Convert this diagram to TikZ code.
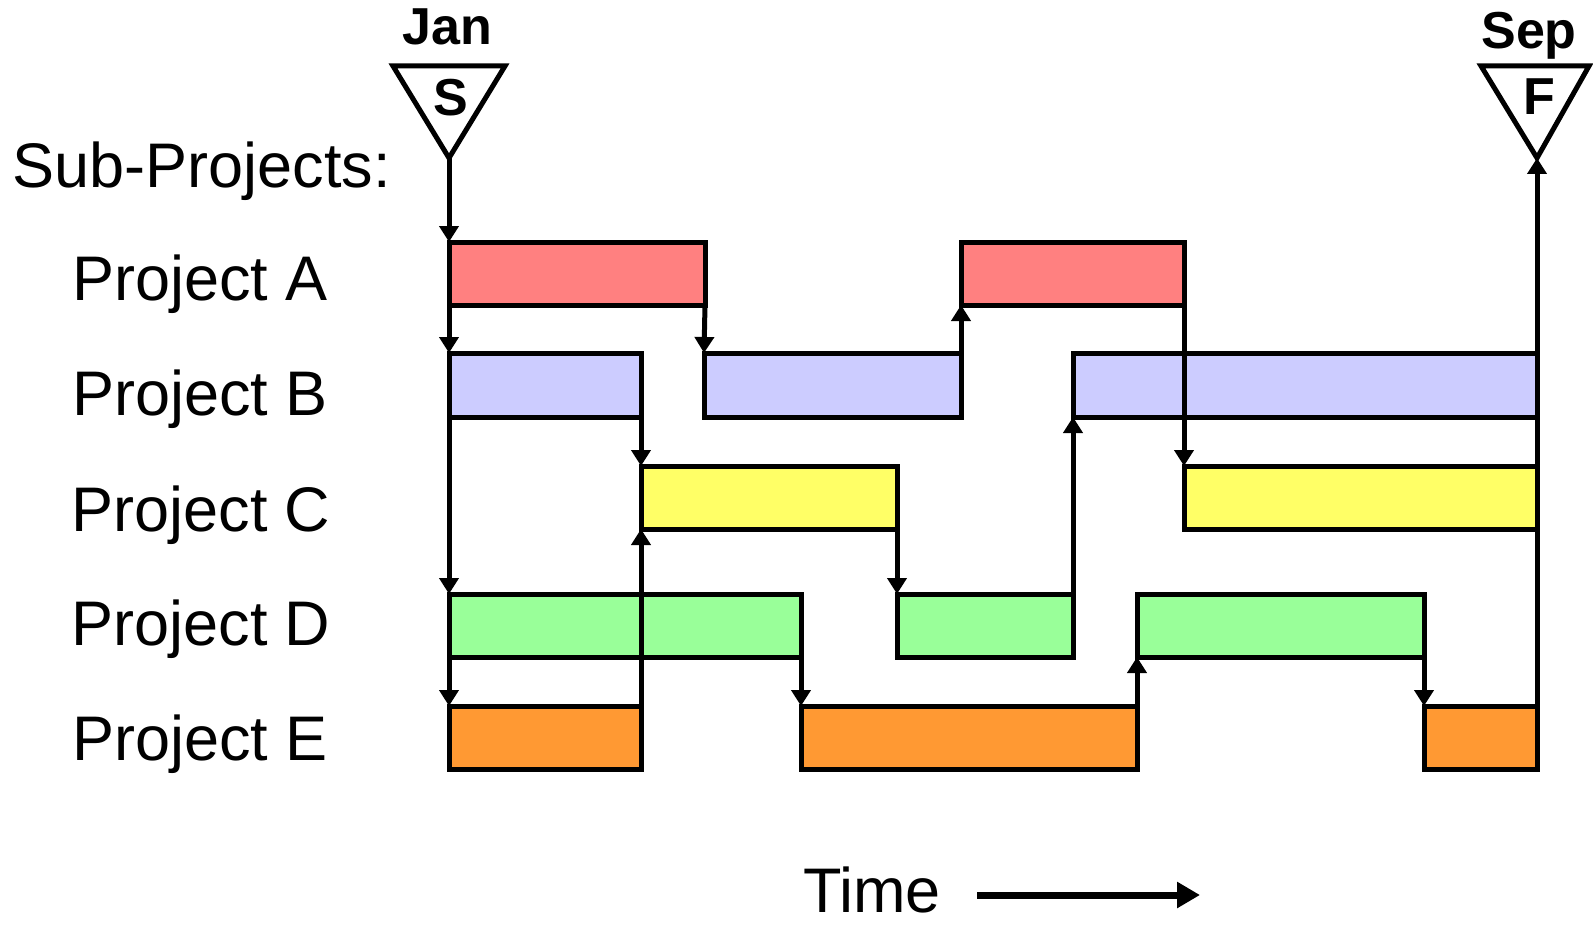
\documentclass[tikz,border=0pt]{standalone}
\usepackage{fontspec}
\setmainfont{Liberation Sans}
\usetikzlibrary{arrows.meta}
\definecolor{colA}{RGB}{255,128,128}
\definecolor{colB}{RGB}{204,204,255}
\definecolor{colC}{RGB}{255,255,102}
\definecolor{colD}{RGB}{153,255,153}
\definecolor{colE}{RGB}{255,153,51}
\newcommand\pbar[6]{\node[pbox,fill=#6,minimum width={(#4-#2)*0.5pt},minimum height={(#5-#3)*0.5pt},anchor=north west] (#1) at (#2,#3) {};}
\begin{document}
\begin{tikzpicture}[x=0.5pt,y=-0.5pt,
  pbox/.style={draw,rectangle,line width=2.5pt,inner sep=0pt,outer sep=0pt},
  conn/.style={line width=2.5pt,-{Triangle[width=9.5pt,length=8pt]}},
  lbl/.style={anchor=base,inner sep=0pt,font=\fontsize{31.5}{36}\selectfont},
  mlbl/.style={anchor=base,inner sep=0pt,font=\fontsize{26}{30}\selectfont\bfseries},
  tri/.style={draw,line width=2.5pt,line join=miter}]
\useasboundingbox (0,0) rectangle (1593,925);
% milestones
\coordinate (Sapex) at (449,158);
\coordinate (Fapex) at (1537,158);
\draw[tri] (393,66) -- (505,66) -- (Sapex) -- cycle;
\draw[tri] (1481,66) -- (1589,66) -- (Fapex) -- cycle;
\node[mlbl] (S) at (451,116) {S};
\node[mlbl] (F) at (1539,115) {F};
\node[mlbl] (jan) at (447,45) {Jan};
\node[mlbl] (sep) at (1529,49) {Sep};
% labels
\node[lbl] (sub) at (201.5,188) {Sub-Projects:};
\node[lbl] (lA) at (200,300) {Project A};
\node[lbl] (lB) at (200,415) {Project B};
\node[lbl] (lC) at (201,531) {Project C};
\node[lbl] (lD) at (201,645) {Project D};
\node[lbl] (lE) at (200,760) {Project E};
% bars
\pbar{A1}{449}{242}{705}{305}{colA}
\pbar{A2}{961}{242}{1184}{305}{colA}
\pbar{B1}{449}{353}{641}{417}{colB}
\pbar{B2}{704}{353}{961}{417}{colB}
\pbar{B3}{1073}{353}{1537}{417}{colB}
\pbar{C1}{641}{466}{897}{529}{colC}
\pbar{C2}{1184}{466}{1537}{529}{colC}
\pbar{D1}{449}{594}{801}{657}{colD}
\pbar{D2}{897}{594}{1073}{657}{colD}
\pbar{D3}{1137}{594}{1424}{657}{colD}
\pbar{E1}{449}{706}{641}{769}{colE}
\pbar{E2}{801}{706}{1137}{769}{colE}
\pbar{E3}{1424}{706}{1537}{769}{colE}
% connectors
\draw[conn] (Sapex) -- (A1.north west);
\draw[conn] (A1.south west) -- (B1.north west);
\draw[conn] (B1.south west) -- (D1.north west);
\draw[conn] (D1.south west) -- (E1.north west);
\draw[conn] (A1.south east) -- (B2.north west);
\draw[conn] (B1.south east) -- (C1.north west);
\draw[conn] (E1.north east) -- (C1.south west);
\draw[conn] (C1.south east) -- (D2.north west);
\draw[conn] (D1.south east) -- (E2.north west);
\draw[conn] (B2.north east) -- (A2.south west);
\draw[conn] (D2.north east) -- (B3.south west);
\draw[conn] (E2.north east) -- (D3.south west);
\draw[conn] (A2.south east) -- (C2.north west);
\draw[conn] (D3.south east) -- (E3.north west);
\draw[conn] (E3.north east) -- (Fapex);
% time axis
\node[lbl] (time) at (872,912) {Time};
\coordinate (tstart) at (977,895);
\coordinate (tend) at (1200,895);
\draw[line width=3.5pt,-{Triangle[width=12.5pt,length=11.5pt]}] (tstart) -- (tend);
\end{tikzpicture}
\end{document}
